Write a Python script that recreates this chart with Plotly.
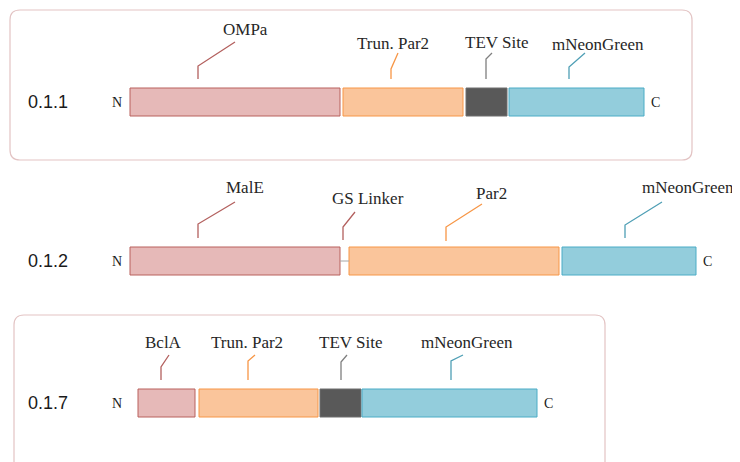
import plotly.graph_objects as go

# ---------------- data ----------------
constructs = ["0.1.1", "0.1.2", "0.1.7"]

seg_names = {
    "0.1.1": ["OMPa", "Trun. Par2", "TEV Site", "mNeonGreen"],
    "0.1.2": ["MalE", "GS Linker", "Par2", "mNeonGreen"],
    "0.1.7": ["BclA", "Trun. Par2", "TEV Site", "mNeonGreen"],
}
seg_types = {
    "0.1.1": ["signal", "par2", "tev", "mng"],
    "0.1.2": ["signal", "linker", "par2", "mng"],
    "0.1.7": ["signal", "par2", "tev", "mng"],
}
# schematic positions along the construct (N-terminus = 0)
seg_start = {
    "0.1.1": [0, 213, 336, 379],
    "0.1.2": [0, 210, 219, 432],
    "0.1.7": [8, 69, 190, 232],
}
seg_end = {
    "0.1.1": [210, 333, 377, 514],
    "0.1.2": [210, 219, 429, 566],
    "0.1.7": [65, 188, 231, 407],
}

# ---------------- layout / style ----------------
row_y = {"0.1.1": 102, "0.1.2": 261, "0.1.7": 403}
bar_h = 28
# label placement: (text x, text y, leader x, knee y, end x, end y, leader bottom y)
label_pos = {
    "0.1.1": [(115, 29, 68, 66, 105, 42, 79),
              (263, 43, 261, 69, 268, 53, 79),
              (366, 42, 356, 59, 362, 53, 79),
              (468, 44, 439, 67, 455, 53, 79)],
    "0.1.2": [(115, 187, 68, 224, 105, 202, 238),
              (238, 198, 213, 227, 225, 212, 240),
              (361, 193, 316, 227, 352, 204, 241),
              (558, 187, 495, 225, 532, 202, 238)],
    "0.1.7": [(33, 342, 31, 367, 39, 355, 380),
              (117, 342, 118, 361, 125, 355, 380),
              (220, 342, 211, 362, 217, 355, 380),
              (337, 342, 321, 361, 333, 355, 380)],
}
fill = {"signal": "#E6B9B8", "par2": "#FAC59B", "tev": "#595959", "mng": "#93CDDC", "linker": "#A6A6A6"}
edge = {"signal": "#B9605D", "par2": "#F79646", "tev": "#6F6F6F", "mng": "#4BACC6", "linker": "#A6A6A6"}
lead = {"signal": "#B3605E", "par2": "#F79646", "tev": "#7F7F7F", "mng": "#4F9FB5", "linker": "#B3605E"}
frames = [(-120, 10, 562, 160), (-116, 315, 475, 475)]
label_font = dict(family="Liberation Serif", size=17, color="#262626")

fig = go.Figure()

for c in constructs:
    y0 = row_y[c]
    idx = [i for i, t in enumerate(seg_types[c]) if t != "linker"]
    fig.add_trace(go.Bar(
        orientation="h",
        y=[y0] * len(idx),
        base=[seg_start[c][i] for i in idx],
        x=[seg_end[c][i] - seg_start[c][i] for i in idx],
        width=bar_h,
        marker=dict(color=[fill[seg_types[c][i]] for i in idx],
                    line=dict(color=[edge[seg_types[c][i]] for i in idx], width=1)),
        hovertext=[seg_names[c][i] for i in idx],
        hoverinfo="text",
        showlegend=False,
    ))
    # linker segments as thin line
    for i, t in enumerate(seg_types[c]):
        if t == "linker":
            fig.add_trace(go.Scatter(x=[seg_start[c][i], seg_end[c][i]], y=[y0, y0], mode="lines",
                                     line=dict(color=fill["linker"], width=1), hoverinfo="skip",
                                     showlegend=False))
    # leaders and labels
    for i, name in enumerate(seg_names[c]):
        tx, ty, lx, ky, ex, ey, by = label_pos[c][i]
        t = seg_types[c][i]
        fig.add_trace(go.Scatter(x=[lx, lx, ex], y=[by, ky, ey], mode="lines",
                                 line=dict(color=lead[t], width=1.3), hoverinfo="skip",
                                 showlegend=False))
        fig.add_annotation(x=tx, y=ty, text=name, showarrow=False, font=label_font,
                           xanchor="center", yanchor="middle")
    # row name, N and C
    fig.add_annotation(x=-82, y=y0, text=c, showarrow=False,
                       font=dict(family="Liberation Sans", size=18, color="#1a1a1a"),
                       xanchor="center", yanchor="middle")
    fig.add_annotation(x=-13, y=y0, text="N", showarrow=False,
                       font=dict(family="Liberation Serif", size=14, color="#1a1a1a"),
                       xanchor="center", yanchor="middle")
    fig.add_annotation(x=max(seg_end[c]) + 11, y=y0, text="C", showarrow=False,
                       font=dict(family="Liberation Serif", size=14, color="#1a1a1a"),
                       xanchor="center", yanchor="middle")

r = 10
for (x0, y0, x1, y1) in frames:
    path = (f"M {x0+r},{y0} L {x1-r},{y0} Q {x1},{y0} {x1},{y0+r} "
            f"L {x1},{y1-r} Q {x1},{y1} {x1-r},{y1} L {x0+r},{y1} Q {x0},{y1} {x0},{y1-r} "
            f"L {x0},{y0+r} Q {x0},{y0} {x0+r},{y0} Z")
    fig.add_shape(type="path", path=path, line=dict(color="#E3C4C4", width=1.2),
                  fillcolor="rgba(0,0,0,0)", layer="below")

# the page places the figure 8px in from the top-left corner
W, H, OFF = 732, 454, 8
fig.update_layout(
    width=W, height=H,
    margin=dict(l=0, r=0, t=0, b=0),
    paper_bgcolor="white", plot_bgcolor="white",
    barmode="overlay",
    xaxis=dict(range=[-130 + OFF, -130 + OFF + W], visible=False, fixedrange=True),
    yaxis=dict(range=[OFF + H, OFF], visible=False, fixedrange=True),
)

fig.write_html("out.html")
